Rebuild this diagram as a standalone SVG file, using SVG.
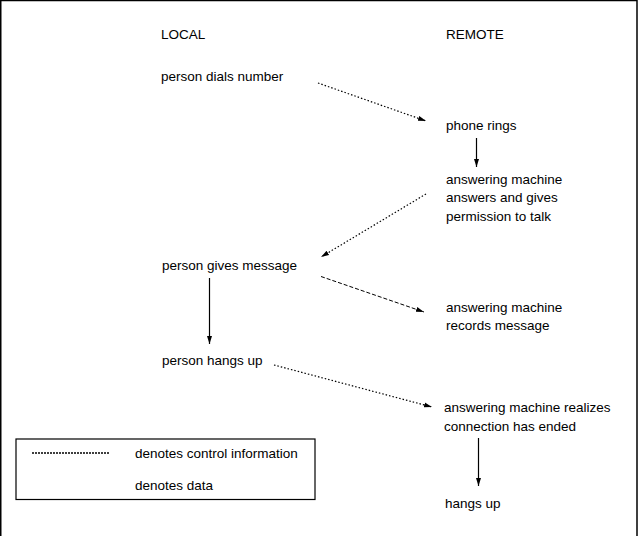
<svg xmlns="http://www.w3.org/2000/svg" width="638" height="536" viewBox="0 0 638 536">
<style>
text{font-family:"Liberation Sans",Arial,sans-serif;font-size:13.5px;fill:#000}
.c{stroke:#000;stroke-width:1.2;fill:none;stroke-dasharray:1.5 2}
.d{stroke:#000;stroke-width:1;fill:none;stroke-dasharray:4 2}
.s{stroke:#000;stroke-width:1.2;fill:none}
</style>
<defs>
<marker id="ah" markerUnits="userSpaceOnUse" markerWidth="9" markerHeight="7" refX="8" refY="3" orient="auto">
<path d="M0,0.5 L8,3 L0,5.5 Z" fill="#000"/>
</marker>
</defs>
<rect width="638" height="536" fill="#fff"/>
<path d="M0.75,536 V0.5 H637 V536" fill="none" stroke="#000" stroke-width="1.5"/>
<g id="headers">
<text x="161" y="39">LOCAL</text>
<text x="446" y="39">REMOTE</text>
</g>
<g id="n1"><text x="161" y="81">person dials number</text></g>
<g id="n2"><text x="446" y="129.5">phone rings</text></g>
<g id="n3"><text x="446" y="184">answering machine</text><text x="446" y="202">answers and gives</text><text x="446" y="220.5">permission to talk</text></g>
<g id="n4"><text x="162" y="269.5">person gives message</text></g>
<g id="n5"><text x="446" y="312">answering machine</text><text x="446" y="330">records message</text></g>
<g id="n6"><text x="162" y="365">person hangs up</text></g>
<g id="n7"><text x="444" y="412">answering machine realizes</text><text x="444" y="430.5">connection has ended</text></g>
<g id="n8"><text x="445" y="507.5">hangs up</text></g>
<g id="legend">
<rect x="16" y="439" width="299" height="60.5" fill="none" stroke="#000" stroke-width="1.2"/>
<line x1="32" y1="453" x2="110" y2="453" stroke="#000" stroke-width="1.5" stroke-dasharray="2 1"/>
<text x="135" y="458">denotes control information</text>
<text x="135" y="490">denotes data</text>
</g>
<g id="connectors">
<line class="c" x1="318" y1="83" x2="426" y2="121" marker-end="url(#ah)"/>
<line class="s" x1="476.5" y1="138" x2="476.5" y2="167" marker-end="url(#ah)"/>
<line class="c" x1="426" y1="194" x2="321" y2="257" marker-end="url(#ah)"/>
<line class="d" x1="321" y1="276.5" x2="424" y2="312" marker-end="url(#ah)"/>
<line class="s" x1="209.5" y1="278" x2="209.5" y2="344" marker-end="url(#ah)"/>
<line class="c" x1="274" y1="365" x2="432" y2="407" marker-end="url(#ah)"/>
<line class="s" x1="478.5" y1="438" x2="478.5" y2="486" marker-end="url(#ah)"/>
</g>
</svg>
